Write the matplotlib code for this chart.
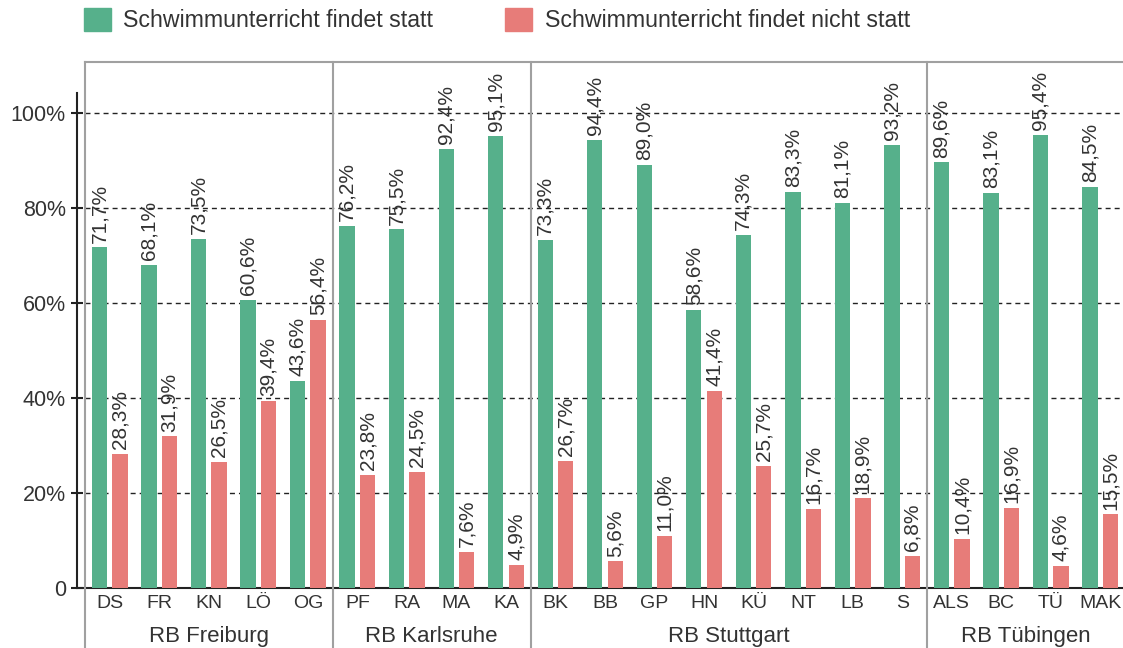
import matplotlib
matplotlib.use('Agg')
import matplotlib.pyplot as plt
from matplotlib.patches import Patch
from matplotlib.lines import Line2D
import numpy as np

# Kreise / Stadtkreise
codes = ['DS', 'FR', 'KN', 'LÖ', 'OG', 'PF', 'RA', 'MA', 'KA', 'BK', 'BB', 'GP',
         'HN', 'KÜ', 'NT', 'LB', 'S', 'ALS', 'BC', 'TÜ', 'MAK']
findet = [71.7, 68.1, 73.5, 60.6, 43.6, 76.2, 75.5, 92.4, 95.1, 73.3, 94.4, 89.0,
          58.6, 74.3, 83.3, 81.1, 93.2, 89.6, 83.1, 95.4, 84.5]
nicht = [28.3, 31.9, 26.5, 39.4, 56.4, 23.8, 24.5, 7.6, 4.9, 26.7, 5.6, 11.0,
         41.4, 25.7, 16.7, 18.9, 6.8, 10.4, 16.9, 4.6, 15.5]
regions = ['RB Freiburg', 'RB Karlsruhe', 'RB Stuttgart', 'RB Tübingen']
region_sizes = [5, 4, 8, 4]
series = ['Schwimmunterricht findet statt', 'Schwimmunterricht findet nicht statt']
yticks = [0, 20, 40, 60, 80, 100]
ytick_labels = ['0', '20%', '40%', '60%', '80%', '100%']

GREEN = '#56b08b'
RED = '#e77c79'
GRAY = '#a0a0a0'
TXT = '#333333'

plt.rcParams['font.family'] = ['Liberation Sans', 'DejaVu Sans']

W, H = 1123, 648
fig = plt.figure(figsize=(W / 100, H / 100), dpi=100)
# plot box: x 85..1125 px, y 62..588 px (right edge at the picture's border)
ax = fig.add_axes([85 / W, 60 / H, 1040 / W, 526 / H])
ytop = 526 / 4.75
ax.set_xlim(-0.5, len(codes) - 0.5)
ax.set_ylim(0, ytop)

x = np.arange(len(codes))
w = 0.31
off = 0.207
b1 = ax.bar(x - off, findet, w, color=GREEN, zorder=3)
b2 = ax.bar(x + off, nicht, w, color=RED, zorder=3)

for bars, vals in ((b1, findet), (b2, nicht)):
    for rect, v in zip(bars, vals):
        ax.annotate(f'{v:.1f}'.replace('.', ',') + '%',
                    (rect.get_x() + rect.get_width() / 2, v),
                    xytext=(0, 3.5), textcoords='offset points',
                    rotation=90, ha='center', va='bottom',
                    fontsize=15, color=TXT)

# grid
ax.set_axisbelow(True)
ax.set_yticks(yticks, ytick_labels)
ax.yaxis.grid(True, linestyle=(0, (3.6, 2.9)), color='#222222', lw=1.0)

# spines
for s in ['top', 'right']:
    ax.spines[s].set_color(GRAY)
    ax.spines[s].set_linewidth(1.5)
ax.spines['left'].set_position(('outward', 5.8))
ax.spines['left'].set_bounds(0, 104.2)
ax.spines['left'].set_color('#222222')
ax.spines['left'].set_linewidth(1.5)
ax.spines['bottom'].set_color('#222222')
ax.spines['bottom'].set_linewidth(1.5)
ax.tick_params(axis='y', direction='inout', length=8, width=1.5, color='#222222',
               labelsize=15.5, labelcolor=TXT, pad=4)
ax.tick_params(axis='x', length=0, labelsize=14, labelcolor=TXT, pad=5)
ax.set_xticks(x, codes)

# zero line continues to the black axis
ax.add_line(Line2D([-8 / 1040, 0], [0, 0], transform=ax.transAxes, color='#222222',
                   lw=1.5, clip_on=False))

# region separators and labels
ybot = -60 / 4.75
bounds = np.cumsum([0] + region_sizes) - 0.5
for b in bounds[:-1]:
    ax.plot([b, b], [ybot, ytop], color=GRAY, lw=1.5, clip_on=False, zorder=4)
for i, name in enumerate(regions):
    cx = (bounds[i] + bounds[i + 1]) / 2
    ax.text(cx, -54 / 4.75, name, ha='center', va='baseline', fontsize=16,
            color=TXT, clip_on=False)

fig.legend(handles=[Patch(color=GREEN), Patch(color=RED)], labels=series,
           loc='upper left', bbox_to_anchor=(84 / W, 1 - 8 / H), ncol=2,
           frameon=False, fontsize=16.7, handlelength=1.15, handleheight=1.15,
           handletextpad=0.55, columnspacing=3.1, borderpad=0, borderaxespad=0,
           labelcolor=TXT)

fig.savefig('out.png', dpi=100)
